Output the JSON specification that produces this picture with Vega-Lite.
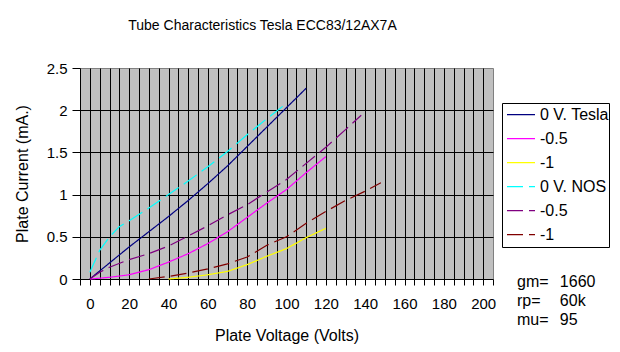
{
  "$schema": "https://vega.github.io/schema/vega-lite/v6.json",
  "width": 413,
  "height": 211,
  "autosize": {"type": "none"},
  "padding": {"left": 80, "top": 68, "right": 127, "bottom": 73},
  "background": "white",
  "title": {"text": "Tube Characteristics Tesla ECC83/12AX7A", "fontSize": 14, "font": "Liberation Sans", "fontWeight": "normal", "color": "black", "anchor": "middle", "dx": -24, "offset": 28},
  "config": {
    "view": {"fill": "#C0C0C0", "stroke": "#808080", "strokeWidth": 1},
    "font": "Liberation Sans",
    "axis": {"labelFont": "Liberation Sans", "titleFont": "Liberation Sans", "labelColor": "black", "titleColor": "black", "titleFontWeight": "normal", "domainColor": "black", "tickColor": "black", "gridOpacity": 1, "gridWidth": 1, "labelFlush": false, "labelOverlap": false}
  },
  "layer": [
    {
      "data": {"values": [
        {"s":"T0","v":0,"i":0},{"s":"T0","v":10,"i":0.19},{"s":"T0","v":20,"i":0.38},{"s":"T0","v":30,"i":0.56},{"s":"T0","v":40,"i":0.74},{"s":"T0","v":50,"i":0.93},{"s":"T0","v":60,"i":1.13},{"s":"T0","v":70,"i":1.34},{"s":"T0","v":80,"i":1.57},{"s":"T0","v":90,"i":1.8},{"s":"T0","v":100,"i":2.03},{"s":"T0","v":110,"i":2.26},
        {"s":"T05","v":0,"i":0},{"s":"T05","v":10,"i":0.02},{"s":"T05","v":20,"i":0.05},{"s":"T05","v":30,"i":0.11},{"s":"T05","v":40,"i":0.2},{"s":"T05","v":50,"i":0.3},{"s":"T05","v":60,"i":0.42},{"s":"T05","v":70,"i":0.56},{"s":"T05","v":80,"i":0.73},{"s":"T05","v":90,"i":0.9},{"s":"T05","v":100,"i":1.06},{"s":"T05","v":110,"i":1.26},{"s":"T05","v":120,"i":1.45},
        {"s":"T1","v":40,"i":0},{"s":"T1","v":50,"i":0.02},{"s":"T1","v":60,"i":0.05},{"s":"T1","v":70,"i":0.09},{"s":"T1","v":80,"i":0.17},{"s":"T1","v":90,"i":0.27},{"s":"T1","v":100,"i":0.36},{"s":"T1","v":110,"i":0.49},{"s":"T1","v":120,"i":0.6},
        {"s":"N0","v":0,"i":0.08},{"s":"N0","v":5,"i":0.34},{"s":"N0","v":10,"i":0.5},{"s":"N0","v":15,"i":0.62},{"s":"N0","v":20,"i":0.69},{"s":"N0","v":30,"i":0.84},{"s":"N0","v":40,"i":1.0},{"s":"N0","v":50,"i":1.16},{"s":"N0","v":60,"i":1.33},{"s":"N0","v":70,"i":1.51},{"s":"N0","v":80,"i":1.71},{"s":"N0","v":90,"i":1.9},{"s":"N0","v":100,"i":2.08},
        {"s":"N05","v":0,"i":0},{"s":"N05","v":5,"i":0.08},{"s":"N05","v":10,"i":0.14},{"s":"N05","v":20,"i":0.23},{"s":"N05","v":30,"i":0.3},{"s":"N05","v":40,"i":0.39},{"s":"N05","v":50,"i":0.51},{"s":"N05","v":60,"i":0.63},{"s":"N05","v":70,"i":0.76},{"s":"N05","v":80,"i":0.88},{"s":"N05","v":90,"i":1.03},{"s":"N05","v":100,"i":1.18},{"s":"N05","v":110,"i":1.37},{"s":"N05","v":120,"i":1.56},{"s":"N05","v":130,"i":1.77},{"s":"N05","v":138,"i":1.94},
        {"s":"N1","v":30,"i":0},{"s":"N1","v":40,"i":0.03},{"s":"N1","v":50,"i":0.07},{"s":"N1","v":60,"i":0.12},{"s":"N1","v":70,"i":0.18},{"s":"N1","v":80,"i":0.26},{"s":"N1","v":90,"i":0.4},{"s":"N1","v":100,"i":0.5},{"s":"N1","v":110,"i":0.66},{"s":"N1","v":120,"i":0.8},{"s":"N1","v":130,"i":0.93},{"s":"N1","v":140,"i":1.04},{"s":"N1","v":148,"i":1.14}
      ]},
      "mark": {"type": "line", "strokeWidth": 1.2},
      "encoding": {
        "x": {"field": "v", "type": "quantitative", "title": "Plate Voltage (Volts)",
          "scale": {"domain": [-5, 205], "nice": false, "zero": false},
          "axis": {"values": [-5,0,5,10,15,20,25,30,35,40,45,50,55,60,65,70,75,80,85,90,95,100,105,110,115,120,125,130,135,140,145,150,155,160,165,170,175,180,185,190,195,200,205],
            "tickCount": 200,
            "labelExpr": "datum.value >= 0 && datum.value <= 200 && datum.value % 20 == 0 ? datum.label : ''",
            "grid": true,
            "gridColor": {"condition": {"test": "datum.value < 0 || datum.value > 200", "value": "transparent"}, "value": "black"},
            "tickSize": 6, "labelFontSize": 15, "labelPadding": 11, "titleFontSize": 16, "titlePadding": 16}},
        "y": {"field": "i", "type": "quantitative", "title": "Plate Current (mA.)",
          "scale": {"domain": [0, 2.5], "nice": false},
          "axis": {"values": [0, 0.5, 1, 1.5, 2, 2.5], "tickCount": 50, "format": "~g", "grid": true,
            "gridColor": {"condition": {"test": "datum.value >= 2.5 || datum.value <= 0", "value": "transparent"}, "value": "black"},
            "tickSize": 8, "labelFontSize": 15, "labelPadding": 5, "titleFontSize": 16, "titlePadding": 16}},
        "color": {"field": "s", "type": "nominal",
          "scale": {"domain": ["T0","T05","T1","N0","N05","N1"], "range": ["#000080","#FF00FF","#FFFF00","#00FFFF","#800080","#800000"]},
          "legend": {"orient": "none", "legendX": 422, "legendY": 35, "title": null, "strokeColor": "black", "fillColor": "white", "padding": 0, "symbolType": "stroke", "symbolSize": 784, "symbolStrokeWidth": 1.2, "symbolOffset": 4, "labelFontSize": 16, "labelFont": "Liberation Sans", "labelColor": "black", "labelOffset": 4, "clipHeight": 23.3, "rowPadding": 0,
            "labelExpr": "{'T0':'0 V. Tesla','T05':'-0.5','T1':'-1','N0':'0 V. NOS','N05':'-0.5','N1':'-1'}[datum.label] + '\u00a0\u00a0'"}},
        "strokeDash": {"field": "s", "type": "nominal",
          "scale": {"domain": ["T0","T05","T1","N0","N05","N1"], "range": [[1,0],[1,0],[1,0],[16,6],[16,6],[16,6]]},
          "legend": {"orient": "none", "legendX": 422, "legendY": 35, "title": null, "strokeColor": "black", "fillColor": "white", "padding": 0, "symbolType": "stroke", "symbolSize": 784, "symbolStrokeWidth": 1.2, "symbolOffset": 4, "labelFontSize": 16, "labelFont": "Liberation Sans", "labelColor": "black", "labelOffset": 4, "clipHeight": 23.3, "rowPadding": 0,
            "labelExpr": "{'T0':'0 V. Tesla','T05':'-0.5','T1':'-1','N0':'0 V. NOS','N05':'-0.5','N1':'-1'}[datum.label] + '\u00a0\u00a0'"}}
      }
    },
    {
      "data": {"values": [{}]},
      "mark": {"type": "text", "align": "left", "baseline": "top", "fontSize": 16, "lineHeight": 19, "font": "Liberation Sans", "color": "black"},
      "encoding": {
        "x": {"datum": 217.2, "type": "quantitative"},
        "y": {"datum": 0.06, "type": "quantitative"},
        "text": {"value": ["gm=", "rp=", "mu="]}
      }
    },
    {
      "data": {"values": [{}]},
      "mark": {"type": "text", "align": "left", "baseline": "top", "fontSize": 16, "lineHeight": 19, "font": "Liberation Sans", "color": "black"},
      "encoding": {
        "x": {"datum": 239, "type": "quantitative"},
        "y": {"datum": 0.06, "type": "quantitative"},
        "text": {"value": ["1660", " 60k", "95"]}
      }
    }
  ]
}
